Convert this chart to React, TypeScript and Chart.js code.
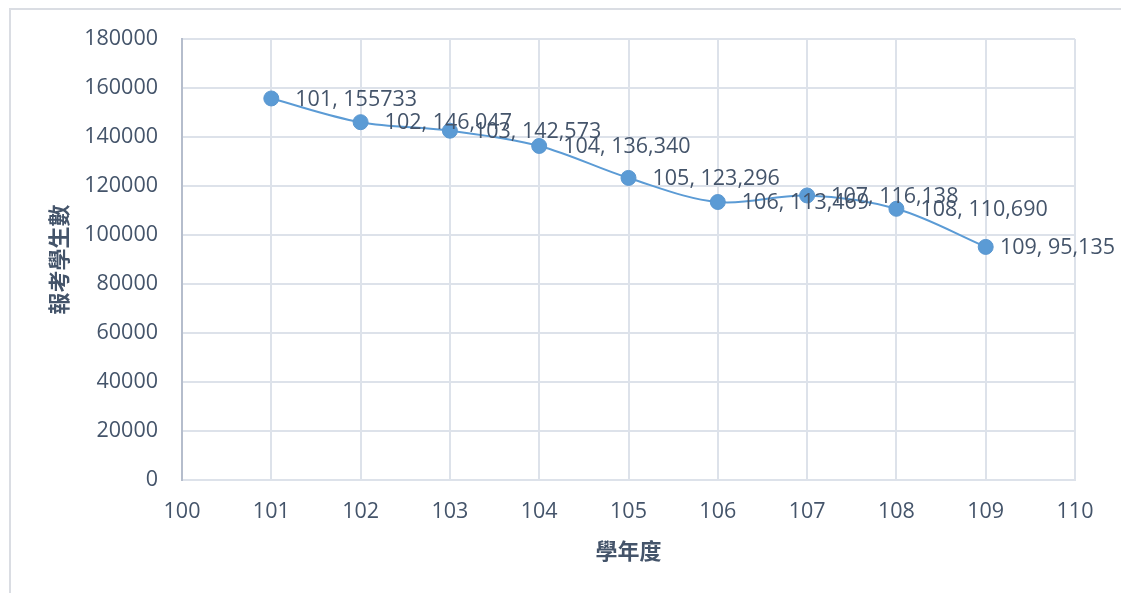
import React, { useEffect, useRef } from "react";
import { Chart, registerables } from "chart.js";

Chart.register(...registerables);

const years = [101, 102, 103, 104, 105, 106, 107, 108, 109];
const students = [155733, 146047, 142573, 136340, 123296, 113469, 116138, 110690, 95135];
const pointLabels = [
  "101, 155733",
  "102, 146,047",
  "103, 142,573",
  "104, 136,340",
  "105, 123,296",
  "106, 113,469",
  "107, 116,138",
  "108, 110,690",
  "109, 95,135",
];
const xTitle = "學年度";
const yTitle = "報考學生數";

const textColor = "#44546a";
const lineColor = "#5b9bd5";
const gridColor = "#dde2ea";
const tickFont = "'Open Sans', 'Noto Sans', sans-serif";
const cjkFont = "'Noto Sans CJK TC', sans-serif";

const labelPlugin = {
  id: "pointLabels",
  afterDatasetsDraw(chart: any) {
    const meta = chart.getDatasetMeta(0);
    const ctx = chart.ctx;
    ctx.save();
    ctx.font = `21.5px ${tickFont}`;
    ctx.fillStyle = textColor;
    ctx.textAlign = "left";
    ctx.textBaseline = "middle";
    meta.data.forEach((pt: any, i: number) => {
      const w = ctx.measureText(pointLabels[i]).width;
      let x = pt.x + 24;
      const maxRight = chart.width - 6;
      if (x + w > maxRight) x = maxRight - w;
      ctx.fillText(pointLabels[i], x, pt.y + 1);
    });
    ctx.restore();
  },
};

export default function App() {
  const ref = useRef<HTMLCanvasElement>(null);
  useEffect(() => {
    document.body.style.margin = "0";
    const chart = new Chart(ref.current!, {
      type: "line",
      data: {
        datasets: [
          {
            data: years.map((x, i) => ({ x, y: students[i] })),
            borderColor: lineColor,
            backgroundColor: lineColor,
            borderWidth: 2,
            pointRadius: 7.5,
            pointBackgroundColor: lineColor,
            pointBorderColor: "#5a97d0",
            pointBorderWidth: 1,
            tension: 0.35,
            fill: false,
          },
        ],
      },
      options: {
        responsive: false,
        animation: false,
        devicePixelRatio: 1,
        layout: { padding: { left: 0, top: 39, right: 46, bottom: 0 } },
        plugins: { legend: { display: false }, tooltip: { enabled: false } },
        scales: {
          x: {
            type: "linear",
            min: 100,
            max: 110,
            afterFit: (s: any) => {
              s.height = 113;
            },
            ticks: {
              stepSize: 1,
              color: textColor,
              font: { family: tickFont, size: 21.5 },
              padding: 19,
              callback: (v: any) => String(v),
            },
            grid: { color: gridColor, lineWidth: 2, drawTicks: false },
            border: { color: gridColor, width: 2 },
            title: {
              display: true,
              text: xTitle,
              color: textColor,
              font: { family: cjkFont, size: 22, weight: "bold" },
              padding: { top: 0, bottom: 29 },
            },
          },
          y: {
            min: 0,
            max: 180000,
            afterFit: (s: any) => {
              s.width = 182;
            },
            ticks: {
              stepSize: 20000,
              color: textColor,
              font: { family: tickFont, size: 21.5 },
              padding: 24,
              callback: (v: any) => String(v),
            },
            grid: { color: gridColor, lineWidth: 2, drawTicks: false },
            border: { color: "#b5bdcc", width: 2 },
            title: {
              display: true,
              text: yTitle,
              color: textColor,
              font: { family: cjkFont, size: 22, weight: "bold" },
              padding: { top: 45, bottom: 0 },
            },
          },
        },
      },
      plugins: [labelPlugin],
    });
    return () => chart.destroy();
  }, []);
  return (
    <div style={{ position: "relative", width: 1121, height: 593, overflow: "hidden", background: "#fff" }}>
      <div
        style={{
          position: "absolute",
          left: 9,
          top: 8,
          width: 1200,
          height: 700,
          border: "2px solid #dadde3",
          boxSizing: "border-box",
        }}
      />
      <canvas ref={ref} width={1121} height={593} style={{ position: "absolute", left: 0, top: 0 }} />
    </div>
  );
}
